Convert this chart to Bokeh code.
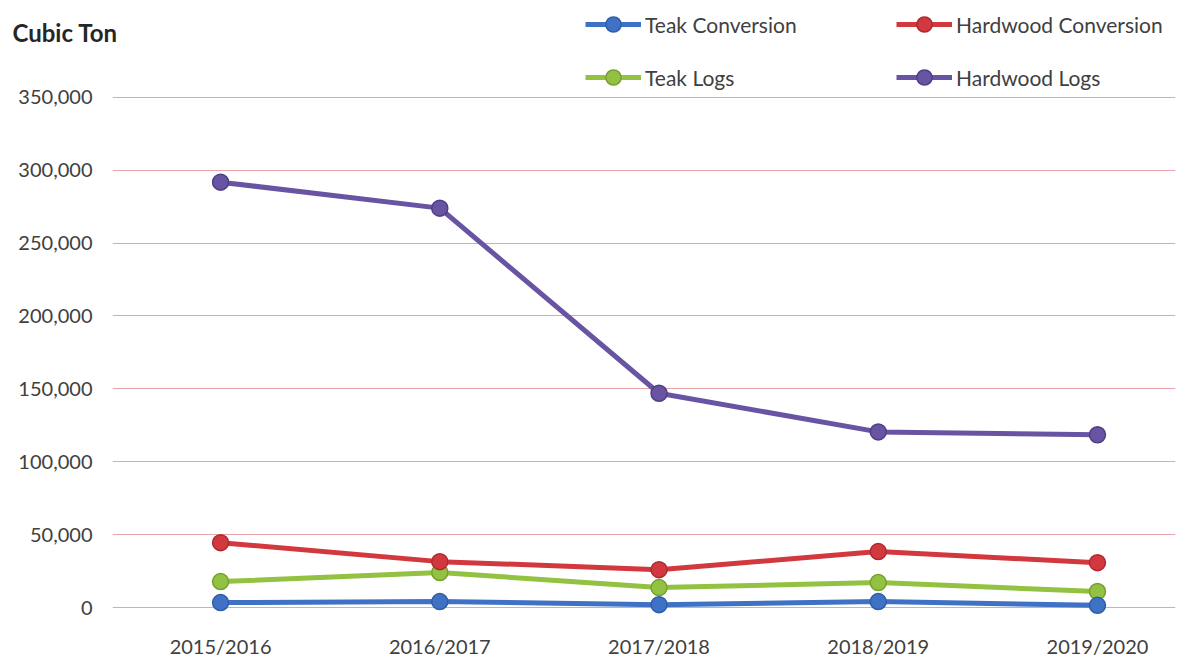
from bokeh.plotting import figure
from bokeh.models import (Legend, LegendItem, FixedTicker, NumeralTickFormatter,
                          Range1d, ColumnDataSource, Title)
from bokeh.embed import file_html
from bokeh.resources import INLINE

# ---- data ----
periods = ["2015/2016", "2016/2017", "2017/2018", "2018/2019", "2019/2020"]
teak_conversion = [3400, 4100, 2000, 4100, 1500]
hardwood_conversion = [44500, 31500, 26000, 38400, 30800]
teak_logs = [17800, 24000, 13700, 17100, 11000]
hardwood_logs = [291800, 274000, 147000, 120500, 118500]
y_ticks = [0, 50000, 100000, 150000, 200000, 250000, 300000, 350000]
y_unit = "Cubic Ton"

series = [
    ("Teak Conversion", teak_conversion, "#3f72c4", "#2f5ea8"),
    ("Hardwood Conversion", hardwood_conversion, "#d2393f", "#ad2a30"),
    ("Teak Logs", teak_logs, "#93c141", "#76a12f"),
    ("Hardwood Logs", hardwood_logs, "#6854a3", "#4f3f85"),
]

FONT = "Lato"
TXT = "#404040"

x_idx = list(range(len(periods)))

p = figure(width=1194, height=660, output_backend="svg", toolbar_location=None,
           x_range=Range1d(-0.493, 4.356), y_range=Range1d(-8200, 413000),
           min_border_left=112, min_border_right=19, min_border_top=5,
           min_border_bottom=40)
p.outline_line_color = None
p.background_fill_color = "white"
p.border_fill_color = "white"

# axes
p.xaxis.ticker = FixedTicker(ticks=x_idx)
p.xaxis.major_label_overrides = {i: lab for i, lab in enumerate(periods)}
p.yaxis.ticker = FixedTicker(ticks=y_ticks)
p.yaxis.formatter = NumeralTickFormatter(format="0,0")
for ax in (p.xaxis[0], p.yaxis[0]):
    ax.axis_line_color = None
    ax.major_tick_line_color = None
    ax.minor_tick_line_color = None
    ax.major_tick_out = 0
    ax.major_tick_in = 0
    ax.major_label_text_font = FONT
    ax.major_label_text_color = TXT
p.xaxis.major_label_text_font_size = "20px"
p.xaxis.major_label_standoff = 14
p.yaxis.major_label_text_font_size = "20px"
p.yaxis.major_label_standoff = 20

p.xgrid.grid_line_color = None
p.ygrid.ticker = FixedTicker(ticks=y_ticks)
p.ygrid.grid_line_color = "#e7a3aa"
p.ygrid.grid_line_width = 1.2

# draw series (hardwood logs first so smaller ones sit on top)
items = {}
for name, vals, col, edge in reversed(series):
    src = ColumnDataSource(dict(x=x_idx, y=vals))
    l = p.line("x", "y", source=src, line_color=col, line_width=5)
    s = p.scatter("x", "y", source=src, size=16, fill_color=col, line_color=edge,
                  line_width=1.5)
    items[name] = [l, s]

names = [s[0] for s in series]
legend = Legend(items=[LegendItem(label=n, renderers=items[n]) for n in names],
                location=(473, 523), orientation="horizontal", ncols=2,
                glyph_width=56, glyph_height=38, label_standoff=4,
                label_width=236, label_height=20, spacing=15, padding=0, margin=0,
                border_line_color=None, background_fill_alpha=0,
                label_text_font=FONT, label_text_font_size="21px",
                label_text_color=TXT)
p.add_layout(legend, "center")

title = Title(text=y_unit, align="left", offset=-100, standoff=-82,
              text_font=FONT, text_font_size="24px", text_font_style="bold",
              text_color="#262626")
p.add_layout(title, "above")

open("out.html", "w").write(file_html(p, INLINE))
